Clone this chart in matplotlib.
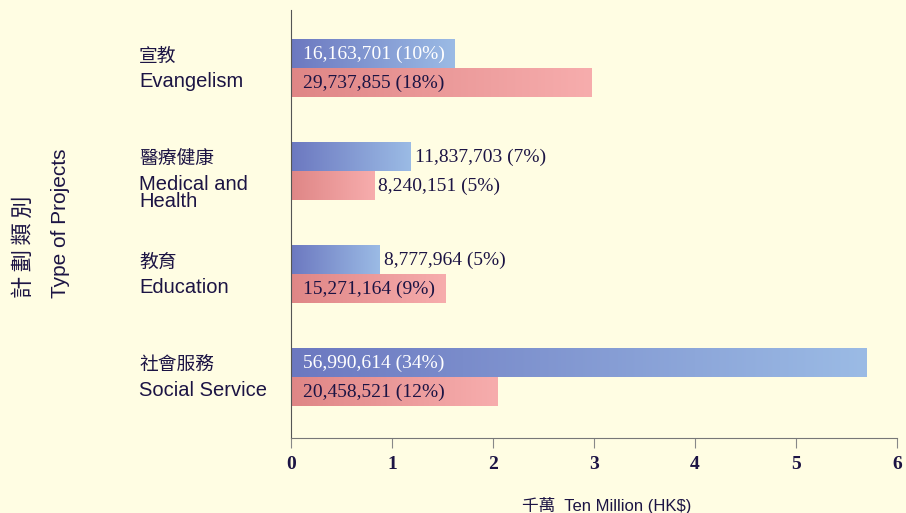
import matplotlib
matplotlib.use("Agg")
import matplotlib.pyplot as plt
import numpy as np
from matplotlib.colors import LinearSegmentedColormap
from matplotlib.transforms import blended_transform_factory

# ---- data ----
cat_en = ["Social Service", "Education", "Medical and\nHealth", "Evangelism"]
cat_zh = ["社會服務", "教育", "醫療健康", "宣教"]
blue_values = [56990614, 8777964, 11837703, 16163701]
blue_pct = [34, 5, 7, 10]
pink_values = [20458521, 15271164, 8240151, 29737855]
pink_pct = [12, 9, 5, 18]
xticks = [0, 1, 2, 3, 4, 5, 6]

BG = "#fffde3"
TXT = "#1c1444"
cmap_blue = LinearSegmentedColormap.from_list("b", ["#6c78c0", "#9bbbe5"])
cmap_pink = LinearSegmentedColormap.from_list("p", ["#df8686", "#f7adad"])

fig = plt.figure(figsize=(9.06, 5.13), dpi=100, facecolor=BG)
ax = fig.add_axes([291 / 906, 75 / 513, 606 / 906, 428 / 513])
ax.set_facecolor(BG)

h = 0.272
grad = np.linspace(0, 1, 256).reshape(1, -1)
serif = "Liberation Serif"

def draw(val, pct, y0, cmap, inside_color):
    v = val / 1e7
    ax.imshow(grad, cmap=cmap, extent=[0, v, y0, y0 + h], aspect="auto",
              origin="lower", zorder=2, interpolation="bicubic")
    lab = f"{val:,} ({pct}%)"
    yc = y0 + h / 2
    if val > 1.5e7:
        ax.text(0.12, yc, lab, ha="left", va="center", fontsize=14,
                family=serif, color=inside_color, zorder=3)
    else:
        ax.text(v + 0.04, yc, lab, ha="left", va="center", fontsize=14,
                family=serif, color=TXT, zorder=3)

for i in range(len(cat_en)):
    draw(blue_values[i], blue_pct[i], i + 0.005, cmap_blue, "white")
    draw(pink_values[i], pink_pct[i], i - h - 0.005, cmap_pink, TXT)

ax.set_xlim(0, 6)
ax.set_ylim(-0.587, 3.568)

tr = blended_transform_factory(fig.transFigure, ax.transData)
for i in range(len(cat_en)):
    ax.text(139 / 906, i + 0.02, cat_zh[i], transform=tr, ha="left", va="bottom",
            fontsize=13.5, family=["Noto Sans CJK TC", "DejaVu Sans"], color=TXT)
    ax.text(139 / 906, i - 0.03, cat_en[i], transform=tr, ha="left", va="top",
            fontsize=14.5, family="Liberation Sans", color=TXT, linespacing=0.9)

for s in ["top", "right"]:
    ax.spines[s].set_visible(False)
ax.spines["left"].set_color("#555555")
ax.spines["bottom"].set_color("#777777")
ax.set_yticks([])
ax.set_xticks(xticks)
ax.set_xticklabels([str(t) for t in xticks], fontsize=14, fontweight="bold",
                   family=serif, color=TXT)
ax.tick_params(axis="x", direction="out", length=7, color="#888888", pad=6)

fig.text(23 / 906, 1 - 298 / 513, "計\u2009劃\u2009類\u2009別", rotation=90, ha="center",
         va="bottom", fontsize=16, family=["Noto Sans CJK TC", "DejaVu Sans"], color=TXT)
fig.text(61 / 906, 1 - 298 / 513, "Type of Projects", rotation=90, ha="center",
         va="bottom", fontsize=15, family="Liberation Sans", color=TXT)
fig.text(607 / 906, 1 - 505 / 513, "千萬  Ten Million (HK$)", ha="center", va="center",
         fontsize=12, family=["Liberation Sans", "Noto Sans CJK TC"], color=TXT)

fig.savefig("out.png", dpi=100, facecolor=BG)
